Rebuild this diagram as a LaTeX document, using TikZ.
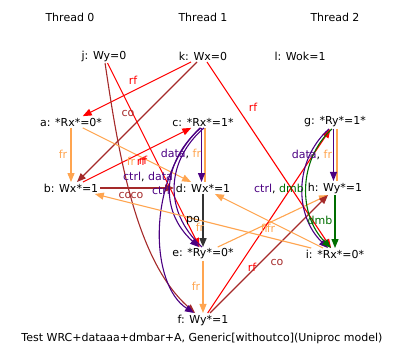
\documentclass[tikz,border=0pt]{standalone}
\usepackage{fontspec}
\setmainfont{DejaVu Sans}
\usetikzlibrary{arrows.meta}
\definecolor{frcol}{RGB}{255,165,80}
\definecolor{cocol}{RGB}{165,42,42}
\definecolor{depcol}{RGB}{75,0,130}
\definecolor{dmbcol}{RGB}{0,110,0}

\begin{document}
\begin{tikzpicture}[
        x=1pt, y=-1pt,
        every node/.style={font=\fontsize{11pt}{13pt}\selectfont, inner sep=1.5pt},
        edge/.style={line width=1.1pt, -{Triangle[length=9pt,width=7pt]}},
        rfedge/.style={edge, red},
        coedge/.style={edge, cocol},
        fredge/.style={edge, frcol},
        poedge/.style={edge, black!80, line width=1.6pt},
        depedge/.style={edge, depcol},
        dmbedge/.style={edge, dmbcol},
        plain/.style={line width=1.1pt}
    ]
    \useasboundingbox (0,0) rectangle (406,361);

    \node (t0) at (70,17) {Thread 0};
    \node (t1) at (203,17) {Thread 1};
    \node (t2) at (335,17) {Thread 2};

    \node (j) at (104,56) {j: Wy=0};
    \node (k) at (203,56) {k: Wx=0};
    \node (l) at (300,56) {l: Wok=1};

    \node (a) at (71,122) {a: *Rx*=0*};
    \node (b) at (71,188) {b: Wx*=1};
    \node (c) at (203,122) {c: *Rx*=1*};
    \node (d) at (203,188) {d: Wx*=1};
    \node (e) at (203,254) {e: *Ry*=0*};
    \node (f) at (203,320) {f: Wy*=1};
    \node (g) at (335,122) {g: *Ry*=1*};
    \node (h) at (335,188) {h: Wy*=1};
    \node (i) at (335,254) {i: *Rx*=0*};

    \node (cap) at (202,338) {Test WRC+dataaa+dmbar+A, Generic[withoutco](Uniproc model)};

    % initial writes
    \draw[rfedge] (k) -- (a);
    \draw[coedge] (k) -- (b);
    \draw[rfedge] (k) -- (i);
    \draw[rfedge] (j) -- (e);
    \draw[coedge] (j) .. controls (118,150) and (135,260) .. (f);

    % thread 0
    \draw[fredge] (a) -- (b);
    \draw[fredge] (a) -- (d);
    \draw[rfedge] (b) -- (c);
    \draw[coedge] (b) -- (d);

    % thread 1
    \draw[plain, frcol] ([xshift=2pt]c.south) -- ([xshift=2pt]d.north);
    \draw[depedge] ([xshift=-1.5pt]c.south) -- ([xshift=-1.5pt]d.north);
    \draw[plain, depcol] ([xshift=1pt]c.south) .. controls (167,160) and (162,210) .. ([xshift=-1pt]e.north);
    \draw[depedge] ([xshift=-2pt]c.south) .. controls (163,160) and (158,210) .. ([xshift=-4pt]e.north);
    \draw[depedge] ([xshift=-3pt]c.south) .. controls (146,180) and (150,285) .. ([xshift=-9pt]f.north);
    \draw[poedge] (d) -- (e);
    \draw[fredge] (e) -- (f);
    \draw[fredge] (e) -- ([xshift=-7pt]h.south);
    \draw[rfedge] (f) -- (g);
    \draw[coedge] (f) -- (h);

    % thread 2
    \draw[plain, frcol] ([xshift=2pt]g.south) -- ([xshift=2pt]h.north);
    \draw[depedge] ([xshift=-1.5pt]g.south) -- ([xshift=-1.5pt]h.north);
    \draw[depedge] ([xshift=-6pt]g.south) .. controls (294,160) and (294,215) .. ([xshift=-7pt]i.north);
    \draw[dmbedge] ([xshift=-3pt]g.south) .. controls (298,160) and (298,215) .. ([xshift=-4pt]i.north);
    \draw[dmbedge] (h) -- (i);
    \draw[fredge] (i) -- (d);
    \draw[fredge] (i) -- (b);

    % labels
    \node[red] (lrf1) at (133,80) {rf};
    \node[cocol] (lco1) at (128,113) {co};
    \node[red] (lrf2) at (253,107) {rf};
    \node[frcol] (lfr1) at (63,154) {fr};
    \node[frcol] (lfr2) at (131,161) {fr};
    \node[red] (lrf3) at (141,161) {rf};
    \node[red] (lrf4) at (143,160) {rf};
    \node (ldf1) at (181,154) {\textcolor{depcol}{data}, \textcolor{frcol}{fr}};
    \node (lcd) at (148,177) {\textcolor{depcol}{ctrl}, \textcolor{depcol}{data}};
    \node[depcol] (lct) at (161,190) {ctrl};
    \node[cocol] (lco2) at (125,195) {co};
    \node[cocol] (lco3) at (137,195) {co};
    \node (lpo) at (193,221) {po};
    \node[frcol] (lfr3) at (200,227) {fr};
    \node[frcol] (lfr4) at (265,228) {fr};
    \node[frcol] (lfr5) at (271,228) {fr};
    \node[frcol] (lfr6) at (196,286) {fr};
    \node[red] (lrf5) at (252,267) {rf};
    \node[cocol] (lco4) at (277,262) {co};
    \node (ldf2) at (312,155) {\textcolor{depcol}{data}, \textcolor{frcol}{fr}};
    \node (lcm) at (279,189) {\textcolor{depcol}{ctrl}, \textcolor{dmbcol}{dmb}};
    \node[dmbcol] (ldmb) at (320,220) {dmb};
\end{tikzpicture}
\end{document}
